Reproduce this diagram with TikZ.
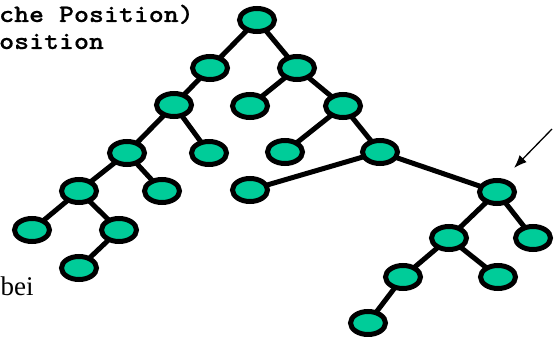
\documentclass[tikz,border=0pt]{standalone}
\usepackage{fontspec}
\newfontfamily\monofnt{lmmonolt10-bold}[Extension=.otf, FakeStretch=1.14, FakeBold=0.6]
\newfontfamily\seriffnt{Liberation Serif}
\usetikzlibrary{shapes.geometric,arrows.meta,backgrounds}
\definecolor{nodegreen}{RGB}{0,204,153}
\tikzset{
  tnode/.style={ellipse, draw=black, fill=nodegreen, line width=5pt,
    minimum width=35pt, minimum height=23pt, inner sep=0pt},
  tedge/.style={line width=5pt, black},
  pointer/.style={line width=1.3pt, -{Latex[length=13pt,width=10pt]}},
  monotext/.style={font=\monofnt\fontsize{25}{28}\selectfont, inner sep=0pt, anchor=base west},
  seriftext/.style={font=\seriffnt\fontsize{27}{30}\selectfont, inner sep=0pt, anchor=base west}
}
\begin{document}
\begin{tikzpicture}[x=1pt,y=-1pt]
\useasboundingbox (0,0) rectangle (557,337);
\node[monotext] (t1) at (-1,22) {che Position)};
\node[monotext] (t2) at (-1,49) {osition};
\node[seriftext] (t3) at (0.5,295) {bei};

\node[tnode] (n1) at (257,20) {};
\node[tnode] (n2) at (210,68) {};
\node[tnode] (n3) at (297,68) {};
\node[tnode] (n4) at (174,105) {};
\node[tnode] (n5) at (250,106) {};
\node[tnode] (n6) at (343,106) {};
\node[tnode] (n7) at (127,153) {};
\node[tnode] (n8) at (209,153) {};
\node[tnode] (n9) at (285,152) {};
\node[tnode] (n10) at (380,152) {};
\node[tnode] (n11) at (79,191) {};
\node[tnode] (n12) at (162,191) {};
\node[tnode] (n13) at (250,190) {};
\node[tnode] (n14) at (497,192) {};
\node[tnode] (n15) at (32,230) {};
\node[tnode] (n16) at (119,230) {};
\node[tnode] (n17) at (449,238) {};
\node[tnode] (n18) at (533,238) {};
\node[tnode] (n19) at (79,268) {};
\node[tnode] (n20) at (403,277) {};
\node[tnode] (n21) at (498,277) {};
\node[tnode] (n22) at (368,323) {};

\begin{scope}[on background layer]
\draw[tedge] (n1.center) -- (n2.center);
\draw[tedge] (n1.center) -- (n3.center);
\draw[tedge] (n2.center) -- (n4.center);
\draw[tedge] (n4.center) -- (n7.center);
\draw[tedge] (n4.center) -- (n8.center);
\draw[tedge] (n3.center) -- (n5.center);
\draw[tedge] (n3.center) -- (n6.center);
\draw[tedge] (n6.center) -- (n9.center);
\draw[tedge] (n6.center) -- (n10.center);
\draw[tedge] (n10.center) -- (n13.center);
\draw[tedge] (n10.center) -- (n14.center);
\draw[tedge] (n7.center) -- (n11.center);
\draw[tedge] (n7.center) -- (n12.center);
\draw[tedge] (n11.center) -- (n15.center);
\draw[tedge] (n11.center) -- (n16.center);
\draw[tedge] (n16.center) -- (n19.center);
\draw[tedge] (n14.center) -- (n17.center);
\draw[tedge] (n14.center) -- (n18.center);
\draw[tedge] (n17.center) -- (n20.center);
\draw[tedge] (n17.center) -- (n21.center);
\draw[tedge] (n20.center) -- (n22.center);
\end{scope}

\coordinate (a0) at (552,129);
\coordinate (a1) at (514,168);
\draw[pointer] (a0) -- (a1);
\end{tikzpicture}
\end{document}
